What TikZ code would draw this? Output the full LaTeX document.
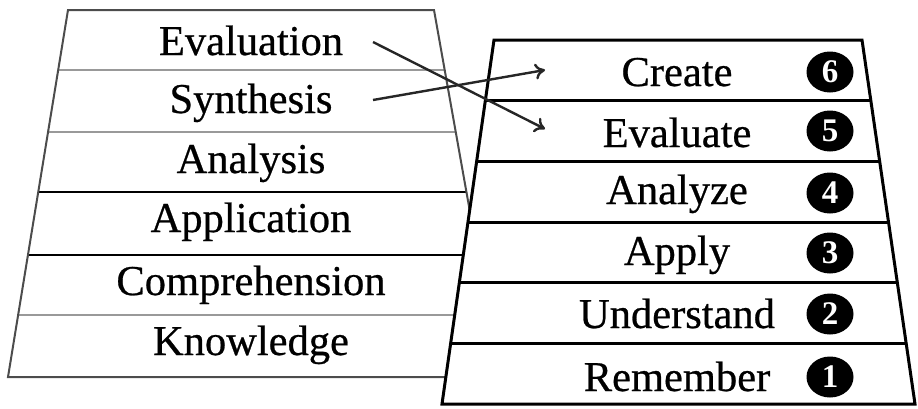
\documentclass[tikz,border=0pt]{standalone}
\usepackage{fontspec}
\setmainfont{Liberation Serif}
\newfontfamily\heavyserif[FakeBold=0.6]{Liberation Serif}
\usetikzlibrary{arrows.meta,shapes.geometric}
\begin{document}
\begin{tikzpicture}[x=1pt,y=-1pt,
  lbl/.style={font=\heavyserif\fontsize{42.5}{42.5}\selectfont, inner sep=0pt, anchor=base},
  num/.style={ellipse, fill=black, text=white, inner sep=0pt, minimum width=47pt, minimum height=41pt, font=\bfseries\fontsize{33}{33}\selectfont},
  lline/.style={line width=2pt, draw=black!70},
  lgrey/.style={line width=2.4pt, draw=black!40},
  ldark/.style={line width=2pt, draw=black},
  rline/.style={line width=3pt, draw=black},
  arr/.style={line width=2.4pt, draw=black!85, -{To[length=10pt,width=16pt,line width=2.4pt]}}]
\useasboundingbox (0,0) rectangle (918,408);

% left (old) stack
\fill[white] (68,10) -- (434,10) -- (498,377) -- (8,377) -- cycle;
\draw[lgrey] (58.2,70) -- (444.6,70);
\draw[lgrey] (48.1,132) -- (455.5,132);
\draw[ldark] (38.2,192) -- (466,192);
\draw[ldark] (27.9,255) -- (480,255);
\draw[lgrey] (18.1,315) -- (480,315);
\draw[lline] (480,377) -- (8,377) -- (68,10) -- (434,10) -- (470,212);

% right (revised) stack
\fill[white] (494,40) -- (862,40) -- (915,404) -- (442,404) -- cycle;
\draw[rline] (485.3,100.7) -- (870.8,100.7);
\draw[rline] (476.7,161.3) -- (879.7,161.3);
\draw[rline] (468,222) -- (888.5,222);
\draw[rline] (459.3,282.7) -- (897.3,282.7);
\draw[rline] (450.7,343.3) -- (906.2,343.3);
\draw[rline, line join=miter] (494,40) -- (862,40) -- (915,404) -- (442,404) -- cycle;

% left labels
\node[lbl] (evaluation) at (251,55) {Evaluation};
\node[lbl] (synthesis) at (251,113) {Synthesis};
\node[lbl] (analysis) at (251,173) {Analysis};
\node[lbl] (application) at (251,232) {Application};
\node[lbl] (comprehension) at (251,295) {Comprehension};
\node[lbl] (knowledge) at (251,355) {Knowledge};

% right labels
\node[lbl] (create) at (677,86) {Create};
\node[lbl] (evaluate) at (677,147) {Evaluate};
\node[lbl] (analyze) at (677,204) {Analyze};
\node[lbl] (apply) at (677,265) {Apply};
\node[lbl] (understand) at (677,328) {Understand};
\node[lbl] (remember) at (677,391) {Remember};

% numbers
\node[num] (n6) at (830,72) {6};
\node[num] (n5) at (830,131) {5};
\node[num] (n4) at (830,193) {4};
\node[num] (n3) at (830,253) {3};
\node[num] (n2) at (830,314) {2};
\node[num] (n1) at (830,377) {1};

% arrows
\coordinate (evS) at (373,42);
\coordinate (evE) at (545,129);
\coordinate (syS) at (373,100);
\coordinate (syE) at (545,70);
\draw[arr] (evS) -- (evE);
\draw[arr] (syS) -- (syE);
\end{tikzpicture}
\end{document}
